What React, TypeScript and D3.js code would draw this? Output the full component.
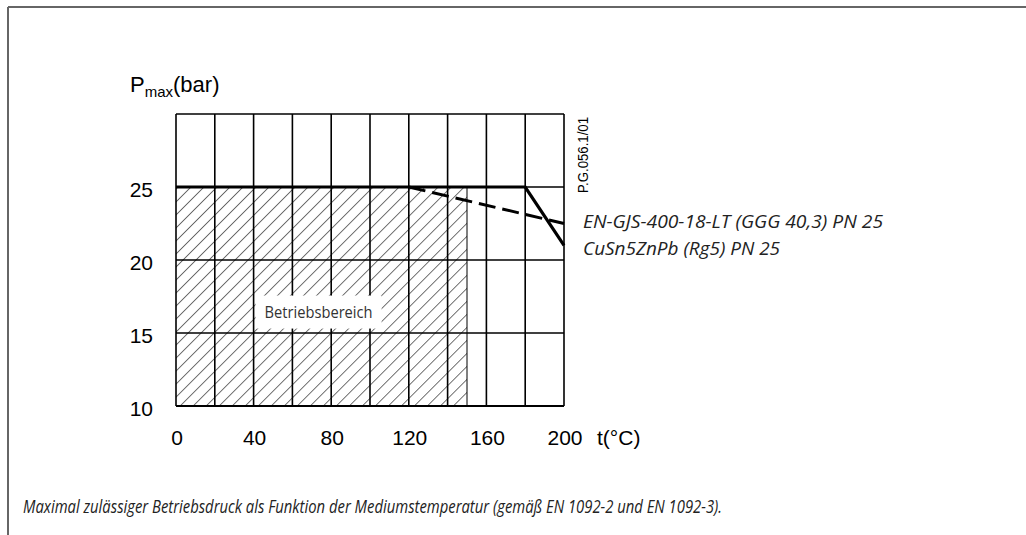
import * as d3 from 'd3';

// grid + axis ticks
const GRID_T = [0, 20, 40, 60, 80, 100, 120, 140, 160, 180, 200];
const GRID_P = [10, 15, 20, 25, 30];
const T_TICKS = [0, 40, 80, 120, 160, 200];
const P_TICKS = [10, 15, 20, 25];

// EN-GJS-400-18-LT (GGG 40,3) PN 25 — solid
const SOLID_T = [0, 180, 200];
const SOLID_P = [25, 25, 21];
// CuSn5ZnPb (Rg5) PN 25 — dashed
const DASHED_T = [120, 200];
const DASHED_P = [25, 22.5];

// Betriebsbereich (hatched)
const RANGE_T = [0, 150];
const RANGE_P = [10, 25];

const LEGEND = ['EN-GJS-400-18-LT (GGG 40,3) PN 25', 'CuSn5ZnPb (Rg5) PN 25'];
const CAPTION =
  'Maximal zulässiger Betriebsdruck als Funktion der Mediumstemperatur (gemäß EN 1092-2 und EN 1092-3).';

const W = 1026;
const H = 535;
const NUM_FONT = '"Liberation Sans", Arial, sans-serif';
const TXT_FONT = '"Open Sans", "Noto Sans", sans-serif';

export default function App() {
  const x = d3.scaleLinear().domain([0, 200]).range([176, 564]);
  const y = d3.scaleLinear().domain([10, 30]).range([406, 114]);

  const line = d3
    .line<[number, number]>()
    .x((d) => x(d[0]))
    .y((d) => y(d[1]));

  const solid = SOLID_T.map((t, i) => [t, SOLID_P[i]] as [number, number]);
  const dashed = DASHED_T.map((t, i) => [t, DASHED_P[i]] as [number, number]);

  const cx = x(73.5);
  const cy = y(16.4);

  return (
    <>
      <style>{'body{margin:0}'}</style>
      <svg width={W} height={H} style={{ display: 'block', background: '#fff' }}>
        <defs>
          <pattern
            id="hatch"
            patternUnits="userSpaceOnUse"
            width={9.2}
            height={9.2}
            patternTransform="rotate(45)"
          >
            <line x1={0} y1={0} x2={0} y2={9.2} stroke="#000" strokeWidth={1.1} />
          </pattern>
        </defs>

        {/* frame */}
        <line x1={8} y1={7} x2={W} y2={7} stroke="#666" strokeWidth={2} />
        <line x1={8} y1={7} x2={8} y2={H} stroke="#666" strokeWidth={2} />

        {/* operating range */}
        <rect
          x={x(RANGE_T[0])}
          y={y(RANGE_P[1])}
          width={x(RANGE_T[1]) - x(RANGE_T[0])}
          height={y(RANGE_P[0]) - y(RANGE_P[1])}
          fill="url(#hatch)"
        />
        <line
          x1={x(RANGE_T[1])}
          x2={x(RANGE_T[1])}
          y1={y(RANGE_P[1])}
          y2={y(RANGE_P[0])}
          stroke="#000"
          strokeWidth={1}
        />

        {/* grid */}
        {GRID_T.map((t) => (
          <line key={'gt' + t} x1={x(t)} x2={x(t)} y1={y(30)} y2={y(10)} stroke="#000" strokeWidth={1.6} />
        ))}
        {GRID_P.map((p) => (
          <line
            key={'gp' + p}
            x1={x(0)}
            x2={x(200)}
            y1={y(p)}
            y2={y(p)}
            stroke="#000"
            strokeWidth={p === 10 ? 2 : 1.6}
          />
        ))}

        {/* label box */}
        <rect x={cx - 63} y={cy - 17} width={126} height={33} fill="#fff" />
        <text
          x={cx}
          y={cy + 5}
          textAnchor="middle"
          fontFamily={TXT_FONT}
          fontSize={16}
          fill="#333"
          textLength={108}
          lengthAdjust="spacingAndGlyphs"
        >
          Betriebsbereich
        </text>

        {/* series */}
        <path d={line(dashed) ?? ''} fill="none" stroke="#000" strokeWidth={3} strokeDasharray="17 7" />
        <path d={line(solid) ?? ''} fill="none" stroke="#000" strokeWidth={3.2} />

        {/* y ticks */}
        {P_TICKS.map((p) => (
          <text key={'yt' + p} x={153} y={y(p) + 10} textAnchor="end" fontFamily={NUM_FONT} fontSize={21}>
            {p}
          </text>
        ))}
        {/* x ticks */}
        {T_TICKS.map((t) => (
          <text key={'xt' + t} x={x(t) + 1} y={445} textAnchor="middle" fontFamily={NUM_FONT} fontSize={21}>
            {t}
          </text>
        ))}
        <text x={597} y={445} fontFamily={NUM_FONT} fontSize={21}>
          t(°C)
        </text>

        {/* y title */}
        <text x={130} y={92} fontFamily={NUM_FONT} fontSize={22}>
          P
          <tspan fontSize={15} dy={5}>
            max
          </tspan>
          <tspan dy={-5}>(bar)</tspan>
        </text>

        {/* drawing number */}
        <text
          transform="translate(588,193) rotate(-90)"
          fontFamily={NUM_FONT}
          fontSize={14}
          textLength={76}
          lengthAdjust="spacingAndGlyphs"
        >
          P.G.056.1/01
        </text>

        {/* legend */}
        {LEGEND.map((s, i) => (
          <text
            key={s}
            x={583}
            y={228 + i * 27}
            fontFamily={TXT_FONT}
            fontStyle="italic"
            fontSize={18}
            fill="#222"
            textLength={i === 0 ? 300 : 197}
            lengthAdjust="spacingAndGlyphs"
          >
            {s}
          </text>
        ))}

        {/* caption */}
        <text
          x={23}
          y={513}
          fontFamily={TXT_FONT}
          fontStyle="italic"
          fontSize={18}
          fill="#222"
          textLength={699}
          lengthAdjust="spacingAndGlyphs"
        >
          {CAPTION}
        </text>
      </svg>
    </>
  );
}
